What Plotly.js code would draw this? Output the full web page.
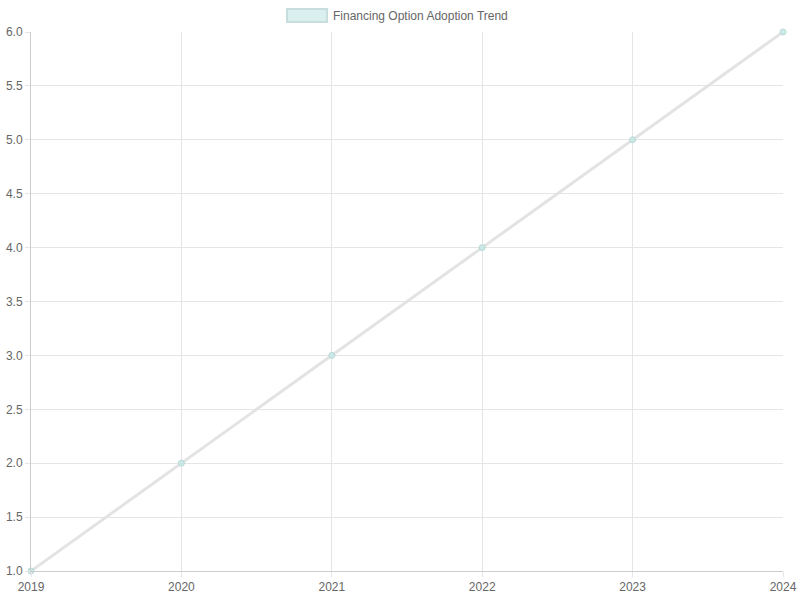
<!DOCTYPE html>
<html>
<head>
<meta charset="utf-8">
<script src="https://cdn.plot.ly/plotly-3.0.1.min.js"></script>
<style>
  body { margin: 0; background: #fff; }
  #chart { width: 800px; height: 600px; }
</style>
</head>
<body>
<div id="chart"></div>
<script>
// data
var years = [2019, 2020, 2021, 2022, 2023, 2024];
var adoption = [1, 2, 3, 4, 5, 6];
var seriesName = "Financing Option Adoption Trend";
var yTicks = [1, 1.5, 2, 2.5, 3, 3.5, 4, 4.5, 5, 5.5, 6];

var lineTrace = {
  type: "scatter",
  mode: "lines+markers",
  x: years,
  y: adoption,
  name: seriesName,
  showlegend: false,
  line: { color: "rgba(224,224,224,0.9)", width: 3 },
  marker: {
    size: 6,
    color: "rgba(200,232,230,0.9)",
    line: { color: "rgba(180,215,212,0.9)", width: 1 }
  },
  cliponaxis: false
};

var axisCommon = {
  showgrid: true,
  gridcolor: "#e5e5e5",
  gridwidth: 1,
  zeroline: false,
  showline: true,
  linecolor: "#cccccc",
  linewidth: 1,
  ticks: "outside",
  ticklen: 5,
  tickcolor: "#e5e5e5",
  tickfont: { size: 12, color: "#666666" }
};

var layout = {
  width: 800,
  height: 600,
  margin: { l: 31, r: 17, t: 32, b: 29 },
  paper_bgcolor: "#ffffff",
  plot_bgcolor: "#ffffff",
  font: { family: "Liberation Sans, Arial, sans-serif", size: 12, color: "#666666" },
  showlegend: false,
  xaxis: Object.assign({}, axisCommon, {
    range: [2019, 2024],
    tickvals: years,
    ticktext: years.map(String)
  }),
  yaxis: Object.assign({}, axisCommon, {
    range: [1, 6],
    tickvals: yTicks,
    ticktext: yTicks.map(function (v) { return v.toFixed(1); })
  }),
  // chart.js style legend box on top
  shapes: [{
    type: "rect",
    xref: "paper", yref: "paper",
    xsizemode: "pixel", ysizemode: "pixel",
    xanchor: 0.5, yanchor: 1,
    x0: -120, x1: -80, y0: 10, y1: 23,
    fillcolor: "rgba(217,240,238,1)",
    line: { color: "rgba(200,222,222,1)", width: 2 }
  }],
  annotations: [{
    xref: "paper", yref: "paper",
    x: 0.5, y: 1,
    xshift: -76, yshift: 16,
    xanchor: "left", yanchor: "middle",
    showarrow: false,
    text: seriesName,
    font: { size: 12, color: "#666666" }
  }]
};

Plotly.newPlot("chart", [lineTrace], layout, { displayModeBar: false, staticPlot: true });
</script>
</body>
</html>
